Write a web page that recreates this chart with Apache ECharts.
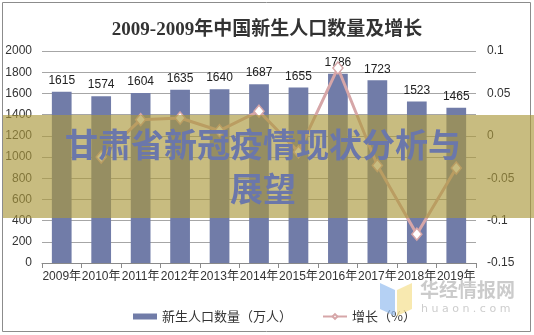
<!DOCTYPE html>
<html>
<head>
<meta charset="utf-8">
<script src="https://cdn.jsdelivr.net/npm/echarts@6/dist/echarts.min.js"></script>
<style>html,body{margin:0;padding:0;background:#fff}#c{width:534px;height:335px}</style>
</head>
<body>
<div id="c"></div>
<script>
var categories = ['2009年','2010年','2011年','2012年','2013年','2014年','2015年','2016年','2017年','2018年','2019年'];
var births = [1615, 1574, 1604, 1635, 1640, 1687, 1655, 1786, 1723, 1523, 1465];
var growth = ['-', -0.025, 0.019, 0.021, 0.006, 0.029, -0.019, 0.080, -0.035, -0.116, -0.038];
var leftTicks = [0, 2000, 200];
var rightTicks = [-0.15, 0.1, 0.05];
var titleText = '2009-2009年中国新生人口数量及增长';
var seriesNames = ['新生人口数量（万人）', '增长（%）'];
var overlayText = '甘肃省新冠疫情现状分析与\n展望';

var chart = echarts.init(document.getElementById('c'), null, {renderer: 'canvas'});
var barColor = '#717ca8';
var lineColor = '#d6a6a8';
chart.setOption({
  animation: false,
  backgroundColor: '#fff',
  title: {
    text: titleText, left: 'center', top: 16,
    textStyle: {fontSize: 19, fontWeight: 'bold', color: '#333', fontFamily: '"Liberation Serif","Noto Sans CJK SC",serif'}
  },
  grid: {left: 42, right: 58, top: 51, bottom: 72},
  legend: {
    left: 128, top: 305, itemGap: 30, itemWidth: 24, itemHeight: 6,
    textStyle: {fontSize: 13, color: '#333', fontFamily: '"Noto Sans CJK SC",sans-serif'},
    data: [
      {name: seriesNames[0], icon: 'rect'},
      {name: seriesNames[1]}
    ]
  },
  xAxis: {
    type: 'category', data: categories,
    axisLine: {lineStyle: {color: '#8a8a8a'}},
    axisTick: {show: true, length: 5, lineStyle: {color: '#8a8a8a'}},
    axisLabel: {fontSize: 12, color: '#333', margin: 8, interval: 0, fontFamily: '"Liberation Sans","Noto Sans CJK SC",sans-serif'}
  },
  yAxis: [
    {
      type: 'value', min: leftTicks[0], max: leftTicks[1], interval: leftTicks[2],
      axisLine: {show: false}, axisTick: {show: false},
      splitLine: {lineStyle: {color: '#a6a6a6'}},
      axisLabel: {fontSize: 12, color: '#333', margin: 10, fontFamily: '"Liberation Sans",sans-serif',
        formatter: function (v) { return String(v); }}
    },
    {
      type: 'value', min: rightTicks[0], max: rightTicks[1], interval: rightTicks[2],
      axisLine: {show: false}, axisTick: {show: false}, splitLine: {show: false},
      axisLabel: {fontSize: 12, color: '#333', margin: 11, fontFamily: '"Liberation Sans",sans-serif',
        formatter: function (v) { return String(Math.round(v * 100) / 100); }}
    }
  ],
  series: [
    {
      name: seriesNames[0], type: 'bar', data: births, barWidth: '50%',
      itemStyle: {color: barColor},
      label: {show: true, position: 'top', distance: 5, fontSize: 12, color: '#222', fontFamily: '"Liberation Sans",sans-serif'},
      z: 2
    },
    {
      name: seriesNames[1], type: 'line', yAxisIndex: 1, data: growth,
      symbol: 'diamond', symbolSize: [10, 12],
      lineStyle: {color: lineColor, width: 3},
      itemStyle: {color: '#fff', borderColor: lineColor, borderWidth: 1.5},
      z: 3
    }
  ],
  graphic: [
    {type: 'rect', z: 100, shape: {x: 2.5, y: 2.5, width: 528, height: 329}, style: {fill: 'none', stroke: '#8c8c8c', lineWidth: 1}},
    {type: 'rect', z: 101, shape: {x: 3, y: 115, width: 531, height: 103}, style: {fill: 'rgba(170,152,60,0.65)'}},
    {type: 'text', z: 102, x: 263, y: 166, style: {
      text: overlayText, align: 'center', verticalAlign: 'middle', lineHeight: 44,
      font: 'bold 33px "Noto Sans CJK SC"', fill: '#6b77aa'}},
    {type: 'polygon', z: 103, shape: {points: [[380,283],[395,290],[395,316],[380,309]]}, style: {fill: 'rgba(150,190,240,0.7)'}},
    {type: 'polygon', z: 103, shape: {points: [[397,290],[412,283],[412,309],[397,316]]}, style: {fill: 'rgba(245,225,150,0.75)'}},
    {type: 'text', z: 103, x: 420, y: 290, style: {text: '华经情报网', verticalAlign: 'middle', font: 'bold 19px "Noto Sans CJK SC"', fill: 'rgba(190,190,190,0.8)'}},
    {type: 'text', z: 103, x: 421, y: 309, style: {text: 'h u a o n . c o m', verticalAlign: 'middle', font: '11px "DejaVu Sans"', fill: 'rgba(200,200,200,0.9)'}}
  ]
});
</script>
</body>
</html>
